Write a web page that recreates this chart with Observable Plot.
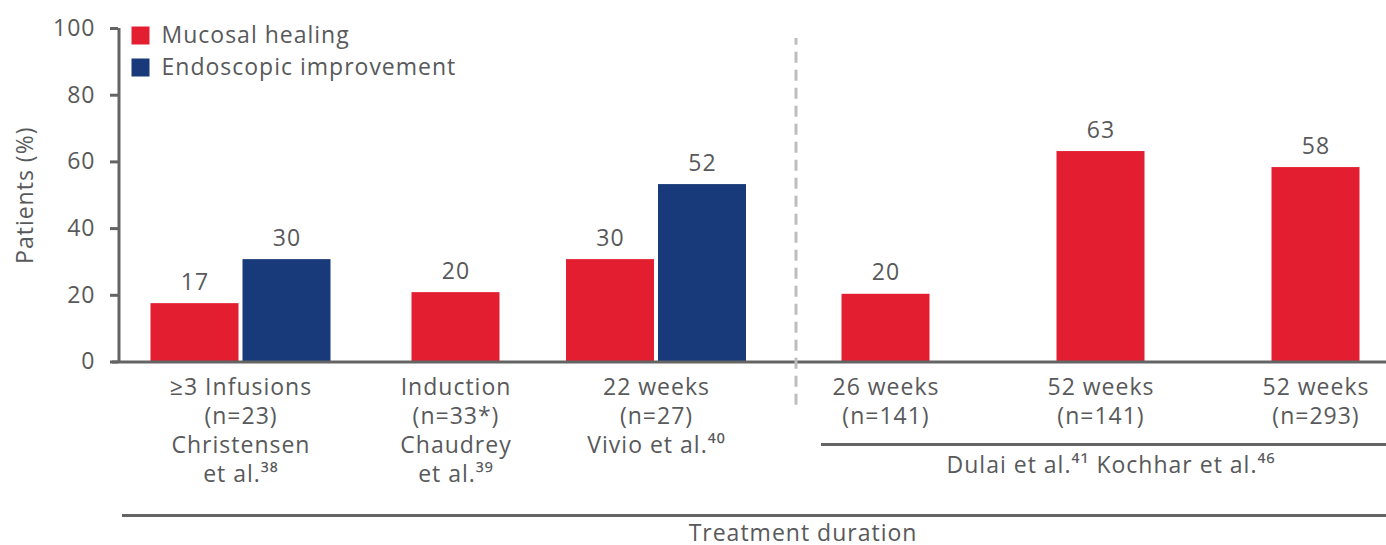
<!DOCTYPE html>
<html>
<head>
<meta charset="utf-8">
<script src="https://cdn.jsdelivr.net/npm/d3@7"></script>
<script src="https://cdn.jsdelivr.net/npm/@observablehq/plot@0.6"></script>
<style>
  html, body { margin: 0; padding: 0; background: #fff; }
  #chart { width: 1386px; height: 545px; }
</style>
</head>
<body>
<div id="chart"></div>
<script>
// ---- data ----
const groups = [
  "≥3 Infusions\n(n=23)\nChristensen\net al.³⁸",
  "Induction\n(n=33*)\nChaudrey\net al.³⁹",
  "22 weeks\n(n=27)\nVivio et al.⁴⁰",
  "26 weeks\n(n=141)",
  "52 weeks\n(n=141)",
  "52 weeks\n(n=293)"
];
const series = ["Mucosal healing", "Endoscopic improvement"];
const mucosalValues = [17.5, 20.8, 30.7, 20.3, 63.1, 58.3];
const mucosalLabels = ["17", "20", "30", "20", "63", "58"];
const endoscopicValues = [30.7, null, 53.2, null, null, null];
const endoscopicLabels = ["30", null, "52", null, null, null];
const yTicks = [0, 20, 40, 60, 80, 100];
const bracketLabel = "Dulai et al.⁴¹ Kochhar et al.⁴⁶";
const xTitle = "Treatment duration";
const yTitle = "Patients (%)";

const RED = "#e31e30", BLUE = "#18397a", INK = "#58595b", AXIS = "#646464";
const FONT = "'Open Sans', sans-serif";
const FS = 23;

// per-group marks (third group sits slightly closer to the second in the original layout)
const groupMarks = groups.flatMap((g, i) => {
  const off = i === 2 ? -14.5 : 0;
  const paired = endoscopicValues[i] != null;
  const red = [{group: g, value: mucosalValues[i], label: mucosalLabels[i]}];
  const out = [];
  if (paired) {
    const blue = [{group: g, value: endoscopicValues[i], label: endoscopicLabels[i]}];
    out.push(
      Plot.barY(red, {x: "group", y: "value", fill: RED, insetLeft: 17.5 + off, insetRight: 109.5 - off}),
      Plot.barY(blue, {x: "group", y: "value", fill: BLUE, insetLeft: 109.5 + off, insetRight: 17.5 - off}),
      Plot.text(red, {x: "group", y: "value", text: "label", dx: -46 + off, dy: -14, lineAnchor: "bottom", fill: INK, fontSize: FS}),
      Plot.text(blue, {x: "group", y: "value", text: "label", dx: 46 + off, dy: -14, lineAnchor: "bottom", fill: INK, fontSize: FS})
    );
  } else {
    out.push(
      Plot.barY(red, {x: "group", y: "value", fill: RED, insetLeft: 63.5 + off, insetRight: 63.5 - off}),
      Plot.text(red, {x: "group", y: "value", text: "label", dx: off, dy: -14, lineAnchor: "bottom", fill: INK, fontSize: FS})
    );
  }
  out.push(Plot.text([g], {x: d => d, y: () => 0, text: d => d, lineAnchor: "top", lineHeight: 1.26, dx: off, dy: 12, fill: INK, fontSize: FS}));
  return out;
});

const chart = Plot.plot({
  width: 1386,
  height: 545,
  marginLeft: 118,
  marginRight: 0,
  marginTop: 28,
  marginBottom: 183.5,
  x: {type: "band", domain: groups, range: [132.5, 1422.5], padding: 0, axis: null},
  y: {domain: [0, 100], axis: null},
  style: {fontFamily: FONT, fontSize: FS + "px", letterSpacing: "1px", color: INK, background: "#fff", overflow: "visible"},
  marks: [
    ...groupMarks,
    // y axis
    Plot.axisY({ticks: yTicks, tickSize: 8, tickPadding: 15, strokeWidth: 3, color: AXIS, fill: INK, fontSize: FS, label: null}),
    Plot.ruleX([groups[0]], {x: d => d, y1: 0, y2: 100, dx: -122, stroke: AXIS, strokeWidth: 3}),
    Plot.text([yTitle], {frameAnchor: "left", dx: -86, rotate: -90, textAnchor: "middle", lineAnchor: "bottom", fill: INK, fontSize: FS}),
    // x axis baseline
    Plot.ruleY([0], {stroke: AXIS, strokeWidth: 3, insetLeft: -6}),
    // divider
    Plot.ruleX([groups[3]], {x: d => d, y1: -13, y2: 97, dx: -90, stroke: "#bdbdbd", strokeWidth: 3, strokeDasharray: "11,7"}),
    // bracket for right group
    Plot.ruleY([0], {dy: 82.5, insetLeft: 703, stroke: AXIS, strokeWidth: 3}),
    Plot.text([bracketLabel], {x: () => groups[4], y: () => 0, dx: 10, dy: 110.5, lineAnchor: "bottom", fill: INK, fontSize: FS}),
    // bottom bracket
    Plot.ruleY([0], {dy: 153.5, insetLeft: 4, stroke: AXIS, strokeWidth: 3}),
    Plot.text([xTitle], {x: () => groups[2], y: () => 0, dx: 132, dy: 178.5, lineAnchor: "bottom", fill: INK, fontSize: FS}),
    // legend
    Plot.dot([series[0]], {frameAnchor: "top-left", dx: 22, dy: 7, symbol: "square", r: 10.16, fill: RED}),
    Plot.dot([series[1]], {frameAnchor: "top-left", dx: 22, dy: 39, symbol: "square", r: 10.16, fill: BLUE}),
    Plot.text([series[0]], {frameAnchor: "top-left", dx: 43, dy: 7, textAnchor: "start", lineAnchor: "middle", fill: INK, fontSize: FS}),
    Plot.text([series[1]], {frameAnchor: "top-left", dx: 43, dy: 39, textAnchor: "start", lineAnchor: "middle", fill: INK, fontSize: FS})
  ]
});
document.getElementById("chart").appendChild(chart);
</script>
</body>
</html>
